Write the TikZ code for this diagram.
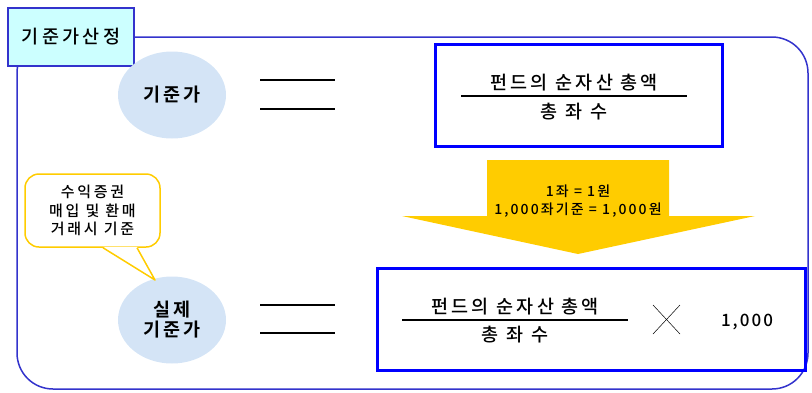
\documentclass[tikz,border=0pt]{standalone}
\usepackage{fontspec}
\setmainfont{Noto Sans CJK KR}
\newfontfamily\widekr[LetterSpace=18,BoldFont={Noto Sans CJK KR Bold}]{Noto Sans CJK KR Medium}
\newfontfamily\unitkr[LetterSpace=15]{Noto Sans CJK KR Medium}
\newfontfamily\numkr[LetterSpace=12]{Noto Sans CJK KR Medium}
\usetikzlibrary{shapes.geometric}
\definecolor{frameblue}{RGB}{51,51,204}
\definecolor{titlecyan}{RGB}{204,255,255}
\definecolor{bubble}{RGB}{212,228,246}
\definecolor{gold}{RGB}{255,204,0}
\tikzset{
  disc/.style={ellipse,fill=bubble,minimum width=108pt,minimum height=87pt,inner sep=0pt,
    align=center,font=\widekr\fontsize{18.5}{20}\selectfont\bfseries},
  formbox/.style={draw=blue,line width=3pt,minimum height=102pt,inner sep=0pt},
  fracpart/.style={inner sep=0pt,font=\widekr\fontsize{18.5}{20}\selectfont},
  eqbar/.style={line width=2pt},
}
\begin{document}
\begin{tikzpicture}[x=1pt,y=-1pt]
  \useasboundingbox (0,0) rectangle (812,392);
  % 바깥 틀
  \draw[frameblue,line width=1.5pt,rounded corners=36pt] (17,37) rectangle (808,389);
  \node[draw=frameblue,fill=titlecyan,line width=1.5pt,minimum width=126pt,minimum height=58pt,
    font=\widekr\fontsize{18.5}{20}\selectfont] (title) at (71,37) {기준가산정};
  % 기준가
  \node[disc] (base) at (172,95) {기준가};
  \draw[eqbar] (260,80) -- (335,80);
  \draw[eqbar] (260,109) -- (335,109);
  \node[formbox,minimum width=287pt] (box1) at (578.5,95) {};
  \node[fracpart] (num1) at (574,83) {펀드의 순자산 총액};
  \node[fracpart] (den1) at (574,112) {총 좌 수};
  \draw[line width=1.2pt] (461,96) -- (687,96);
  % 노란 화살표
  \fill[gold] (487,160) -- (669,160) -- (669,216) -- (755,216) -- (578,254) -- (402,216) -- (487,216) -- cycle;
  \node[align=center,inner sep=0pt,font=\unitkr\fontsize{14}{18}\selectfont] (unit) at (578,201)
    {1좌 = 1원\\1,000좌기준 = 1,000원};
  % 실제 기준가
  \node[disc] (real) at (172,320) {실제\\기준가};
  \draw[eqbar] (260,305) -- (335,305);
  \draw[eqbar] (260,333) -- (335,333);
  \node[formbox,minimum width=428pt] (box2) at (591,319) {};
  \node[fracpart] (num2) at (515,307) {펀드의 순자산 총액};
  \node[fracpart] (den2) at (515,335) {총 좌 수};
  \draw[line width=1.2pt] (402,320) -- (628,320);
  \draw[line width=0.5pt] (653,305) -- (680,334);
  \draw[line width=0.5pt] (653,334) -- (680,305);
  \node[inner sep=0pt,font=\numkr\fontsize{17}{19}\selectfont] (thousand) at (747,322) {1,000};
  % 말풍선
  \node[draw=gold,line width=1.5pt,fill=white,rounded corners=14pt,minimum width=135pt,minimum height=73pt,
    align=center,font=\widekr\fontsize{15}{18.5}\selectfont] (note) at (92.5,210.5)
    {수익증권\\매입 및 환매\\거래시 기준};
  \coordinate (tip) at (155,280);
  \fill[white] ([xshift=10.5pt,yshift=1pt]note.south) -- (tip) -- ([xshift=44.5pt,yshift=1pt]note.south) -- cycle;
  \draw[gold,line width=1.5pt,line join=round] ([xshift=10.5pt]note.south) -- (tip) -- ([xshift=44.5pt]note.south);
\end{tikzpicture}
\end{document}
